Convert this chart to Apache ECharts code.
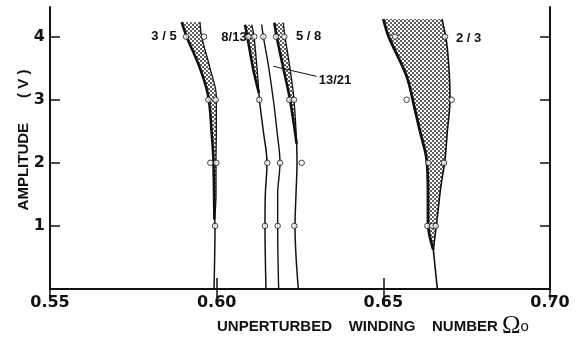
<!DOCTYPE html>
<html>
<head>
<meta charset="utf-8">
<script src="https://cdn.jsdelivr.net/npm/echarts@6/dist/echarts.min.js"></script>
<style>
  html, body { margin: 0; padding: 0; background: #fff; }
  #chart { width: 580px; height: 337px; }
</style>
</head>
<body>
<div id="chart"></div>
<script>
// Axis ticks
const xTicks = [0.55, 0.60, 0.65, 0.70];
const yTicks = [1, 2, 3, 4];

// Tongue boundaries as [winding number, amplitude (V)], drawn top to apex
const t35Left  = [[0.5895, 4.23], [0.5910, 4.0], [0.5950, 3.5], [0.5975, 3.05], [0.5985, 2.47], [0.5990, 2.07], [0.5993, 1.1]];
const t35Right = [[0.5950, 4.23], [0.5955, 4.0], [0.5980, 3.5], [0.5999, 3.05], [0.5999, 2.47], [0.5998, 2.07], [0.5998, 1.5], [0.5994, 1.1]];
const t35Stem  = [[0.5994, 1.1], [0.5995, 1.0], [0.5992, 0]];

const t813Left  = [[0.6085, 4.19], [0.6092, 4.0], [0.6109, 3.5], [0.6127, 3.1]];
const t813Right = [[0.6105, 4.19], [0.6112, 4.0], [0.6121, 3.5], [0.6127, 3.1]];
const t813Stem  = [[0.6127, 3.1], [0.6128, 3.0], [0.6140, 2.5], [0.6151, 2.0], [0.6146, 1.5], [0.6145, 1.0], [0.6148, 0]];

const t1321Line = [[0.6135, 4.19], [0.6140, 4.0], [0.6155, 3.55], [0.6170, 3.0], [0.6181, 2.5], [0.6190, 2.0], [0.6183, 1.5], [0.6183, 1.0], [0.6186, 0]];

const t58Left  = [[0.6173, 4.22], [0.6180, 4.0], [0.6200, 3.5], [0.6220, 3.0], [0.6240, 2.3]];
const t58Right = [[0.6200, 4.22], [0.6205, 4.0], [0.6220, 3.5], [0.6232, 3.0], [0.6240, 2.3]];
const t58Stem  = [[0.6240, 2.3], [0.6241, 2.0], [0.6238, 1.5], [0.6235, 1.0], [0.6245, 0]];

const t23Left  = [[0.6500, 4.28], [0.6516, 4.0], [0.6570, 3.37], [0.6595, 2.84], [0.6610, 2.5], [0.6630, 2.05], [0.6634, 1.5], [0.6634, 1.05], [0.6650, 0.62]];
const t23Right = [[0.6676, 4.28], [0.6690, 3.9], [0.6698, 3.4], [0.6700, 3.0], [0.6692, 2.5], [0.6685, 2.05], [0.6672, 1.6], [0.6660, 1.05], [0.6650, 0.62]];
const t23Stem  = [[0.6650, 0.62], [0.6662, 0]];

// Measured points (open circles)
const pts35   = [[0.5908, 4], [0.5962, 4], [0.5975, 3], [0.5997, 3], [0.5981, 2], [0.5999, 2], [0.5995, 1]];
const pts813  = [[0.6095, 4], [0.6113, 4], [0.6128, 3], [0.6152, 2], [0.6145, 1]];
const pts1321 = [[0.6140, 4], [0.6190, 2], [0.6183, 1]];
const pts58   = [[0.6178, 4], [0.6203, 4], [0.6218, 3], [0.6232, 3], [0.6255, 2], [0.6233, 1]];
const pts23   = [[0.6535, 4], [0.6685, 4], [0.6570, 3], [0.6705, 3], [0.6635, 2], [0.6682, 2], [0.6632, 1], [0.6647, 1], [0.6657, 1]];

const tongues = [
  { left: t35Left,  right: t35Right },
  { left: t813Left, right: t813Right },
  { left: t58Left,  right: t58Right },
  { left: t23Left,  right: t23Right }
];

const INK = '#111';
const SMOOTH = 0.35;

// Stipple fill for the locked regions
function stipple() {
  const c = document.createElement('canvas');
  c.width = 4; c.height = 4;
  const g = c.getContext('2d');
  g.fillStyle = '#5e5e5e';
  g.fillRect(0, 0, 2, 2);
  g.fillRect(2, 2, 2, 2);
  return c;
}
const dots = { image: stipple(), repeat: 'repeat' };

function curve(data, width) {
  return {
    type: 'line', data: data, smooth: SMOOTH, symbol: 'none', silent: true, z: 3,
    lineStyle: { color: INK, width: width }
  };
}

const labelFont = { fontFamily: 'Liberation Sans', fontWeight: 'bold', fontSize: 13, color: INK };

const chart = echarts.init(document.getElementById('chart'), null, { renderer: 'canvas' });

chart.setOption({
  animation: false,
  backgroundColor: '#fff',
  grid: { left: 50, right: 30, top: 7, bottom: 48, outerBoundsMode: 'none', containLabel: false },
  xAxis: [{
    type: 'value', position: 'bottom',
    min: xTicks[0], max: xTicks[xTicks.length - 1], interval: 0.05,
    axisLine: { show: true, lineStyle: { color: INK, width: 2 } },
    axisTick: { show: true, inside: true, length: 11, lineStyle: { color: INK, width: 1.5 } },
    axisLabel: {
      formatter: v => v.toFixed(2), margin: 6,
      fontFamily: 'DejaVu Sans', fontWeight: 'bold', fontSize: 16, color: INK
    },
    splitLine: { show: false },
    name: '{w|UNPERTURBED    WINDING    NUMBER }{o|Ω}{s|o}',
    nameLocation: 'middle', nameGap: 25, nameMoveOverlap: false,
    nameTextStyle: {
      padding: [0, 0, 0, 146],
      rich: {
        w: { fontFamily: 'Liberation Sans', fontWeight: 'bold', fontSize: 15, color: INK },
        o: { fontFamily: 'Liberation Serif', fontSize: 25, color: INK },
        s: { fontFamily: 'Liberation Sans', fontSize: 15, color: INK }
      }
    }
  }, {
    type: 'value', position: 'top',
    min: xTicks[0], max: xTicks[xTicks.length - 1], interval: 0.05,
    axisLine: { show: true, lineStyle: { color: INK, width: 2 } },
    axisTick: { show: true, inside: true, length: 11, lineStyle: { color: INK, width: 1.5 } },
    axisLabel: { show: false },
    splitLine: { show: false }
  }],
  yAxis: [{
    type: 'value', position: 'left',
    min: 0, max: 4.47, interval: 1,
    axisLine: { show: true, lineStyle: { color: INK, width: 2 } },
    axisTick: { show: true, inside: true, length: 10, customValues: yTicks, lineStyle: { color: INK, width: 1.5 } },
    axisLabel: {
      customValues: yTicks, margin: 5,
      fontFamily: 'DejaVu Sans', fontWeight: 'bold', fontSize: 16, color: INK
    },
    splitLine: { show: false },
    name: 'AMPLITUDE      ( V )',
    nameLocation: 'middle', nameRotate: 90, nameGap: 19, nameMoveOverlap: false,
    nameTextStyle: { fontFamily: 'Liberation Sans', fontWeight: 'bold', fontSize: 15, color: INK, padding: [0, 0, 0, 16] }
  }, {
    type: 'value', position: 'right',
    min: 0, max: 4.47, interval: 1,
    axisLine: { show: true, lineStyle: { color: INK, width: 2 } },
    axisTick: { show: true, inside: true, length: 10, customValues: yTicks, lineStyle: { color: INK, width: 1.5 } },
    axisLabel: { show: false },
    splitLine: { show: false }
  }],
  series: [
    {
      // stippled locking regions
      type: 'custom', silent: true, z: 2,
      data: tongues.map(t => t.left[0]),
      renderItem: (params, api) => {
        const t = tongues[params.dataIndex];
        const poly = t.left.concat(t.right.slice().reverse()).map(p => api.coord(p));
        return {
          type: 'polygon',
          shape: { points: poly },
          style: { fill: dots, stroke: null }
        };
      }
    },
    curve(t35Left, 2.6), curve(t35Right, 1.3), curve(t35Stem, 1.5),
    curve(t813Left, 2.6), curve(t813Right, 1.3), curve(t813Stem, 1.5),
    curve(t1321Line, 1.4),
    curve(t58Left, 2.6), curve(t58Right, 1.3), curve(t58Stem, 1.5),
    curve(t23Left, 2.8), curve(t23Right, 1.6), curve(t23Stem, 1.6),
    {
      type: 'scatter', z: 5, silent: true,
      data: [].concat(pts35, pts813, pts1321, pts58, pts23),
      symbol: 'circle', symbolSize: 5.5,
      itemStyle: { color: '#fff', borderColor: INK, borderWidth: 1 },
      markPoint: {
        symbol: 'circle', symbolSize: 0, silent: true,
        label: Object.assign({ show: true, formatter: '{b}' }, labelFont),
        data: [
          { name: '3 / 5', coord: [0.5842, 4.0] },
          { name: '8/13', coord: [0.6052, 3.98] },
          { name: '5 / 8', coord: [0.6276, 4.0] },
          { name: '2 / 3', coord: [0.6756, 3.97] },
          { name: '13/21', coord: [0.6355, 3.31] }
        ]
      },
      markLine: {
        silent: true, symbol: ['none', 'arrow'], symbolSize: [0, 7],
        label: { show: false },
        lineStyle: { color: INK, width: 1, type: 'solid' },
        data: [[{ coord: [0.6300, 3.37] }, { coord: [0.6170, 3.53] }]]
      }
    }
  ]
});
</script>
</body>
</html>
